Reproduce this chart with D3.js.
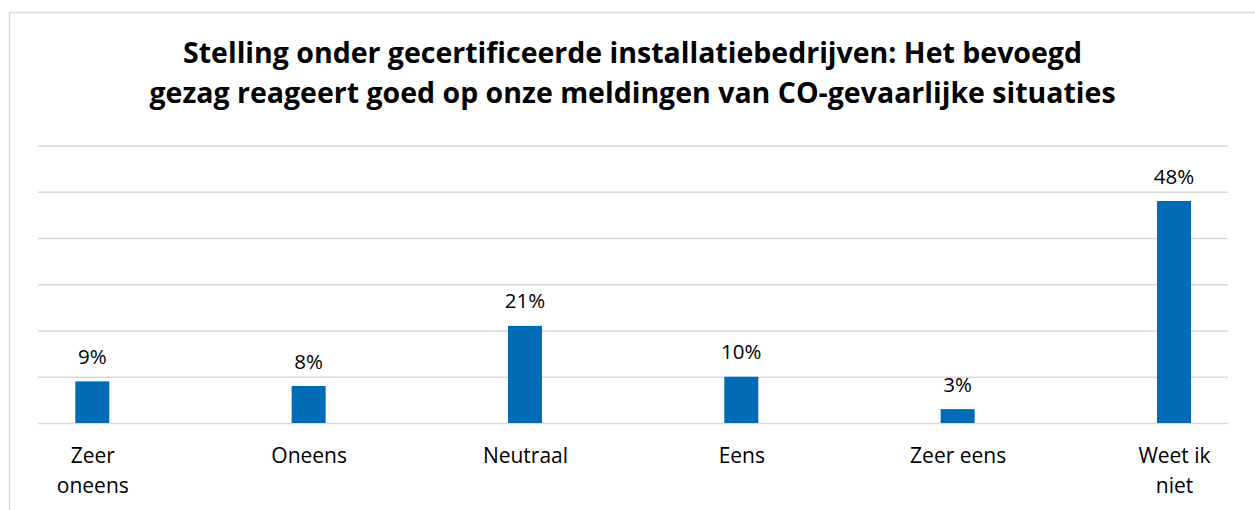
<!DOCTYPE html>
<html>
<head>
<meta charset="utf-8">
<script src="https://cdn.jsdelivr.net/npm/d3@7/dist/d3.min.js"></script>
<style>
  html, body { margin: 0; padding: 0; background: #fff; }
  svg { display: block; }
  text { font-family: "Open Sans", "Noto Sans", sans-serif; fill: #000; font-variant-ligatures: none; }
</style>
</head>
<body>
<svg id="chart" width="1255" height="510"></svg>
<script>
// Survey answers and the share of respondents (%) for each
const categories = [["Zeer", "oneens"], ["Oneens"], ["Neutraal"], ["Eens"], ["Zeer eens"], ["Weet ik", "niet"]];
const values = [9, 8, 21, 10, 3, 48];
const yTicks = [0, 10, 20, 30, 40, 50, 60];
const titleLines = [
  "Stelling onder gecertificeerde installatiebedrijven: Het bevoegd",
  "gezag reageert goed op onze meldingen van CO-gevaarlijke situaties"
];

const svg = d3.select("#chart");
const W = 1255, H = 510;

const keys = categories.map(c => c.join(" "));
const x = d3.scalePoint().domain(keys).range([92.3, 1174]);
const y = d3.scaleLinear().domain([0, 60]).range([423, 145.5]);
const barW = 34;

// outer frame
svg.append("rect")
  .attr("x", 9.5).attr("y", 12.5)
  .attr("width", W + 20).attr("height", H + 20)
  .attr("fill", "none").attr("stroke", "#d9d9d9").attr("stroke-width", 1.5);

// title
svg.append("g").selectAll("text").data(titleLines).join("text")
  .attr("x", 632.5).attr("y", (d, i) => 62.5 + i * 40.5)
  .attr("text-anchor", "middle")
  .attr("font-weight", 700).attr("font-size", 28.5)
  .text(d => d);

// horizontal gridlines
const yAxis = d3.axisLeft(y).tickValues(yTicks).tickSize(-(1228 - 38)).tickFormat("");
const gy = svg.append("g").attr("transform", "translate(38,0)").call(yAxis);
gy.select(".domain").remove();
gy.selectAll(".tick line").attr("stroke", "#d9d9d9").attr("stroke-width", 1.5);

// bars
svg.append("g").selectAll("rect").data(values).join("rect")
  .attr("x", (d, i) => x(keys[i]) - barW / 2)
  .attr("y", d => y(d))
  .attr("width", barW)
  .attr("height", d => y(0) - y(d))
  .attr("fill", "#006cb5");

// value labels
svg.append("g").selectAll("text").data(values).join("text")
  .attr("x", (d, i) => x(keys[i]))
  .attr("y", d => y(d) - 17.5)
  .attr("text-anchor", "middle")
  .attr("font-size", 20.5)
  .text(d => d + "%");

// category labels
const xAxis = d3.axisBottom(x).tickSize(0).tickFormat("");
const gx = svg.append("g").attr("transform", `translate(0,${y(0)})`).call(xAxis);
gx.select(".domain").remove();
gx.selectAll(".tick").each(function(d, i) {
  const t = d3.select(this).append("text")
    .attr("text-anchor", "middle").attr("font-size", 21)
    .attr("fill", "#000");
  categories[i].forEach((line, j) => {
    t.append("tspan").attr("x", 0).attr("y", 40 + j * 30).text(line);
  });
});
</script>
</body>
</html>
